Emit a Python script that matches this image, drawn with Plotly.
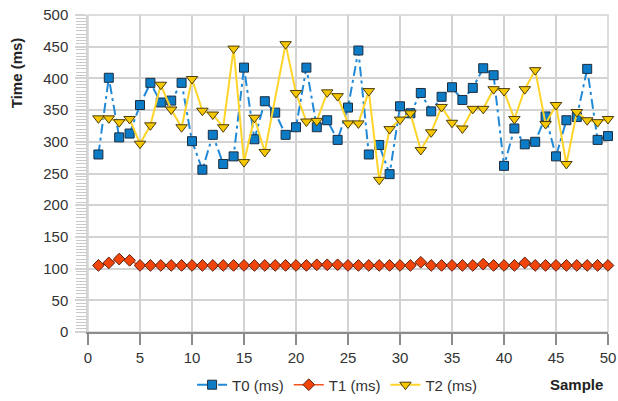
import plotly.graph_objects as go

samples = list(range(1, 51))

t0_ms = [280, 401, 307, 313, 358, 393, 362, 365, 393, 301,
         256, 311, 265, 277, 417, 304, 364, 346, 311, 323,
         417, 323, 334, 303, 354, 444, 280, 295, 249, 356,
         345, 377, 348, 371, 386, 366, 385, 416, 405, 262,
         321, 296, 300, 340, 277, 334, 339, 415, 303, 309]

t1_ms = [105, 109, 115, 113, 105, 105, 105, 105, 105, 105,
         105, 105, 105, 105, 105, 105, 105, 105, 105, 105,
         105, 106, 106, 106, 105, 105, 105, 105, 105, 105,
         105, 110, 105, 105, 105, 105, 105, 107, 105, 105,
         105, 109, 105, 105, 105, 105, 105, 105, 105, 105]

t2_ms = [337, 337, 331, 336, 297, 326, 390, 351, 323, 399,
         349, 343, 323, 447, 268, 338, 284, None, 454, 377,
         332, 333, 378, 372, 329, 329, 380, 240, 320, 335,
         345, 287, 315, 355, 330, 321, 352, 352, 383, 380,
         336, 383, 413, 328, 358, 265, 347, 334, 331, 336]

series_names = ["T0 (ms)", "T1 (ms)", "T2 (ms)"]
x_ticks = list(range(0, 51, 5))
y_ticks = list(range(0, 501, 50))

FONT = "Liberation Sans, Arial, sans-serif"
GRID = "#d3d3d3"
AXIS = "#8c8c8c"

fig = go.Figure()

fig.add_trace(go.Scatter(
    x=samples, y=t0_ms, name=series_names[0], mode="lines+markers",
    line=dict(color="#2189d6", width=2, dash="10px,4px,3px,4px"),
    marker=dict(symbol="square", size=9, color="#0d7cc6",
                line=dict(color="#1b2d40", width=1)),
    cliponaxis=False,
))
fig.add_trace(go.Scatter(
    x=samples, y=t1_ms, name=series_names[1], mode="lines+markers",
    line=dict(color="#f0521c", width=1.5),
    marker=dict(symbol="diamond", size=9, color="#f2450c",
                line=dict(color="#5a2010", width=1)),
    cliponaxis=False,
))
fig.add_trace(go.Scatter(
    x=samples, y=t2_ms, name=series_names[2], mode="lines+markers",
    connectgaps=True,
    line=dict(color="#ffd42a", width=2),
    marker=dict(symbol="triangle-down", size=10, color="#f7c800",
                line=dict(color="#4a3c10", width=1)),
    cliponaxis=False,
))

fig.update_layout(
    width=618, height=401,
    margin=dict(l=88, r=10, t=15, b=69, pad=0, autoexpand=False),
    paper_bgcolor="white", plot_bgcolor="white",
    font=dict(family=FONT, size=15, color="#333333"),
    showlegend=True,
    legend=dict(orientation="h", x=0.48, xanchor="center", y=-0.167,
                yanchor="middle", font=dict(size=15, color="#333333"),
                itemwidth=30, bgcolor="rgba(0,0,0,0)", tracegroupgap=0),
    xaxis=dict(range=[0, 50], tickvals=x_ticks, showgrid=True,
               gridcolor=GRID, gridwidth=1.5, zeroline=False,
               showline=True, linecolor=AXIS, linewidth=2,
               ticks="outside", ticklen=11, tickwidth=2, tickcolor=AXIS,
               tickfont=dict(size=15, color="#333333")),
    yaxis=dict(range=[0, 500], tickvals=y_ticks, showgrid=True,
               gridcolor=GRID, gridwidth=1.5, zeroline=False,
               showline=True, linecolor=GRID, linewidth=1.5,
               ticks="outside", ticklen=11, tickwidth=1.5, tickcolor=GRID,
               ticklabelstandoff=4,
               minor=dict(dtick=5, ticks="outside", ticklen=10, tickwidth=1,
                          tickcolor="#c8c8c8", showgrid=False),
               tickfont=dict(size=15, color="#333333")),
    shapes=[dict(type="rect", xref="paper", yref="paper", x0=0, x1=1, y0=0, y1=1,
                 line=dict(color=GRID, width=1.5), layer="below")],
    annotations=[
        dict(text="<b>Sample</b>", xref="paper", yref="paper", x=0.94, y=-0.167,
             xanchor="center", yanchor="middle", showarrow=False,
             font=dict(size=15, color="#222222")),
        dict(text="<b>Time (ms)</b>", xref="paper", yref="paper", x=-0.138, y=0.817,
             xanchor="center", yanchor="middle", textangle=-90, showarrow=False,
             font=dict(size=15, color="#222222")),
    ],
)

fig.write_html("out.html")
